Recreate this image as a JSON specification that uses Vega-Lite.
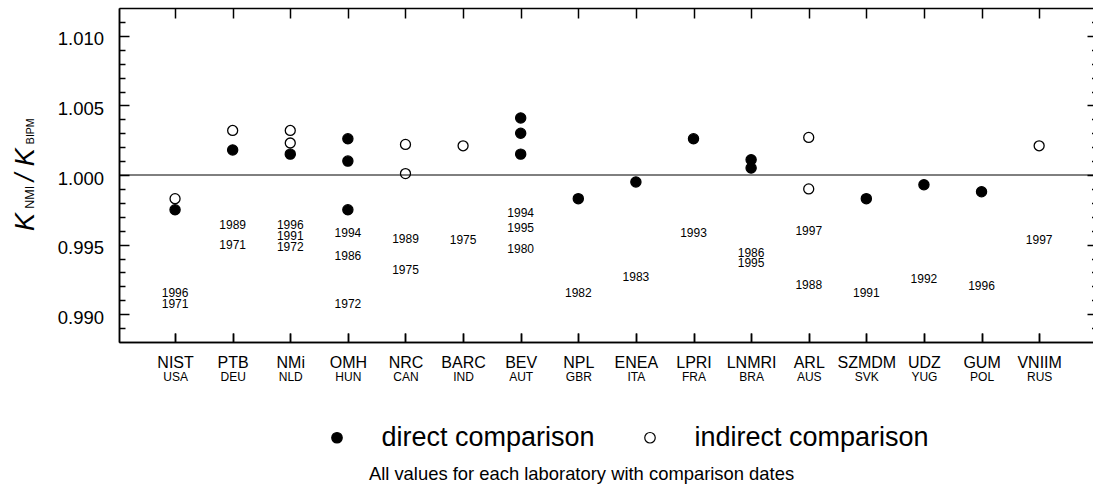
{
  "$schema": "https://vega.github.io/schema/vega-lite/v6.json",
  "width": 974,
  "height": 334,
  "autosize": "none",
  "padding": {"left": 119, "top": 8, "right": 0, "bottom": 143},
  "background": "white",
  "config": {
    "view": {"stroke": null},
    "font": "Liberation Sans",
    "axis": {
      "domainColor": "black",
      "tickColor": "black",
      "labelColor": "black",
      "titleColor": "black",
      "grid": false,
      "domainWidth": 1.5,
      "tickWidth": 1.5,
      "labelFont": "Liberation Sans",
      "titleFont": "Liberation Sans",
      "titleFontWeight": "normal",
      "labelOverlap": false,
      "labelFlush": false
    }
  },
  "datasets": {
    "points": [
      {"lab": "NIST", "type": "indirect comparison", "value": 0.9983},
      {"lab": "NIST", "type": "direct comparison", "value": 0.9975},
      {"lab": "PTB", "type": "indirect comparison", "value": 1.0032},
      {"lab": "PTB", "type": "direct comparison", "value": 1.0018},
      {"lab": "NMi", "type": "indirect comparison", "value": 1.0032},
      {"lab": "NMi", "type": "indirect comparison", "value": 1.0023},
      {"lab": "NMi", "type": "direct comparison", "value": 1.0015},
      {"lab": "OMH", "type": "direct comparison", "value": 1.0026},
      {"lab": "OMH", "type": "direct comparison", "value": 1.0010},
      {"lab": "OMH", "type": "direct comparison", "value": 0.9975},
      {"lab": "NRC", "type": "indirect comparison", "value": 1.0022},
      {"lab": "NRC", "type": "indirect comparison", "value": 1.0001},
      {"lab": "BARC", "type": "indirect comparison", "value": 1.0021},
      {"lab": "BEV", "type": "direct comparison", "value": 1.0041},
      {"lab": "BEV", "type": "direct comparison", "value": 1.0030},
      {"lab": "BEV", "type": "direct comparison", "value": 1.0015},
      {"lab": "NPL", "type": "direct comparison", "value": 0.9983},
      {"lab": "ENEA", "type": "direct comparison", "value": 0.9995},
      {"lab": "LPRI", "type": "direct comparison", "value": 1.0026},
      {"lab": "LNMRI", "type": "direct comparison", "value": 1.0011},
      {"lab": "LNMRI", "type": "direct comparison", "value": 1.0005},
      {"lab": "ARL", "type": "indirect comparison", "value": 1.0027},
      {"lab": "ARL", "type": "indirect comparison", "value": 0.9990},
      {"lab": "SZMDM", "type": "direct comparison", "value": 0.9983},
      {"lab": "UDZ", "type": "direct comparison", "value": 0.9993},
      {"lab": "GUM", "type": "direct comparison", "value": 0.9988},
      {"lab": "VNIIM", "type": "indirect comparison", "value": 1.0021}
    ],
    "years": [
      {"lab": "NIST", "year": "1996", "pos": 0.9915},
      {"lab": "NIST", "year": "1971", "pos": 0.9907},
      {"lab": "PTB", "year": "1989", "pos": 0.9964},
      {"lab": "PTB", "year": "1971", "pos": 0.9950},
      {"lab": "NMi", "year": "1996", "pos": 0.9964},
      {"lab": "NMi", "year": "1991", "pos": 0.9956},
      {"lab": "NMi", "year": "1972", "pos": 0.9948},
      {"lab": "OMH", "year": "1994", "pos": 0.9958},
      {"lab": "OMH", "year": "1986", "pos": 0.9942},
      {"lab": "OMH", "year": "1972", "pos": 0.9907},
      {"lab": "NRC", "year": "1989", "pos": 0.9954},
      {"lab": "NRC", "year": "1975", "pos": 0.9932},
      {"lab": "BARC", "year": "1975", "pos": 0.9953},
      {"lab": "BEV", "year": "1994", "pos": 0.9973},
      {"lab": "BEV", "year": "1995", "pos": 0.9962},
      {"lab": "BEV", "year": "1980", "pos": 0.9947},
      {"lab": "NPL", "year": "1982", "pos": 0.9915},
      {"lab": "ENEA", "year": "1983", "pos": 0.9927},
      {"lab": "LPRI", "year": "1993", "pos": 0.9958},
      {"lab": "LNMRI", "year": "1986", "pos": 0.9944},
      {"lab": "LNMRI", "year": "1995", "pos": 0.9937},
      {"lab": "ARL", "year": "1997", "pos": 0.9960},
      {"lab": "ARL", "year": "1988", "pos": 0.9921},
      {"lab": "SZMDM", "year": "1991", "pos": 0.9915},
      {"lab": "UDZ", "year": "1992", "pos": 0.9925},
      {"lab": "GUM", "year": "1996", "pos": 0.9920},
      {"lab": "VNIIM", "year": "1997", "pos": 0.9953}
    ],
    "reference": [{"ref": 1.0}]
  },
  "layer": [
    {
      "data": {"name": "points"},
      "transform": [{"filter": "datum.type === 'direct comparison'"}],
      "mark": {"type": "point", "shape": "circle", "filled": true, "size": 105, "stroke": "black", "strokeWidth": 1.2, "opacity": 1},
      "encoding": {
        "x": {
          "field": "lab", "type": "nominal",
          "scale": {"type": "point", "domain": ["NIST","PTB","NMi","OMH","NRC","BARC","BEV","NPL","ENEA","LPRI","LNMRI","ARL","SZMDM","UDZ","GUM","VNIIM"], "padding": 0.954, "align": 0.51},
          "axis": {
            "orient": "bottom", "labelAngle": 0, "labelFontSize": 16, "labelBaseline": "alphabetic",
            "tickSize": -9, "labelPadding": 34.4, "domain": true,
            "title": "All values for each laboratory with comparison dates",
            "titleFontSize": 18.4, "titleX": 462, "titleY": 137, "titleAlign": "center", "titleBaseline": "alphabetic"
          }
        },
        "y": {
          "field": "value", "type": "quantitative",
          "scale": {"domain": [0.988, 1.012], "nice": false, "zero": false},
          "axis": {
            "orient": "left", "values": [0.99, 0.995, 1.0, 1.005, 1.01], "format": ".3f",
            "labelFontSize": 18.5, "tickSize": -10, "labelPadding": 25.5, "labelOffset": 3, "labelBaseline": "middle",
            "domain": true,
            "title": "K", "titleFontSize": 27, "titleFontStyle": "italic", "titleAngle": 270,
            "titleX": -86, "titleY": 213.5, "titleAlign": "center", "titleBaseline": "alphabetic"
          }
        },
        "fill": {
          "field": "type", "type": "nominal",
          "scale": {"domain": ["direct comparison", "indirect comparison"], "range": ["black", "white"]},
          "legend": {
            "orient": "none", "legendX": 204.5, "legendY": 416, "direction": "horizontal", "columns": 2,
            "title": null, "labelFontSize": 27, "labelFont": "Liberation Sans", "labelColor": "black",
            "symbolType": "circle", "symbolSize": 110, "symbolStrokeColor": "black", "symbolStrokeWidth": 1.2,
            "labelOffset": 31, "columnPadding": 41, "padding": 0, "labelLimit": 0
          }
        }
      }
    },
    {
      "data": {"name": "points"},
      "transform": [{"filter": "datum.type === 'indirect comparison'"}],
      "mark": {"type": "point", "shape": "circle", "filled": true, "size": 100, "stroke": "black", "strokeWidth": 1.3, "opacity": 1},
      "encoding": {
        "x": {
          "field": "lab", "type": "nominal",
          "scale": {"type": "point", "domain": ["NIST","PTB","NMi","OMH","NRC","BARC","BEV","NPL","ENEA","LPRI","LNMRI","ARL","SZMDM","UDZ","GUM","VNIIM"], "padding": 0.954, "align": 0.51},
          "axis": {
            "orient": "bottom", "labelAngle": 0, "labelFontSize": 12, "labelBaseline": "alphabetic",
            "tickSize": -9, "labelPadding": 47.7, "domain": true, "title": null,
            "labelExpr": "['USA','DEU','NLD','HUN','CAN','IND','AUT','GBR','ITA','FRA','BRA','AUS','SVK','YUG','POL','RUS'][indexof(['NIST','PTB','NMi','OMH','NRC','BARC','BEV','NPL','ENEA','LPRI','LNMRI','ARL','SZMDM','UDZ','GUM','VNIIM'], datum.value)]"
          }
        },
        "y": {
          "field": "value", "type": "quantitative",
          "scale": {"domain": [0.988, 1.012], "nice": false, "zero": false},
          "axis": {
            "orient": "left",
            "values": [0.989, 0.991, 0.992, 0.993, 0.994, 0.996, 0.997, 0.998, 0.999, 1.001, 1.002, 1.003, 1.004, 1.006, 1.007, 1.008, 1.009, 1.011],
            "labels": false, "tickSize": -6, "domain": true,
            "title": "NMI", "titleFontSize": 12.5, "titleAngle": 270,
            "titleX": -86, "titleY": 188.7, "titleAlign": "center", "titleBaseline": "alphabetic"
          }
        },
        "fill": {
          "field": "type", "type": "nominal",
          "scale": {"domain": ["direct comparison", "indirect comparison"], "range": ["black", "white"]}
        }
      }
    },
    {
      "data": {"name": "years"},
      "mark": {"type": "text", "fontSize": 12, "font": "Liberation Sans", "align": "center", "baseline": "middle", "color": "black"},
      "encoding": {
        "x": {
          "field": "lab", "type": "nominal",
          "scale": {"type": "point", "domain": ["NIST","PTB","NMi","OMH","NRC","BARC","BEV","NPL","ENEA","LPRI","LNMRI","ARL","SZMDM","UDZ","GUM","VNIIM"], "padding": 0.954, "align": 0.51},
          "axis": {"orient": "top", "labels": false, "tickSize": -10, "domain": true, "title": null}
        },
        "y": {
          "field": "pos", "type": "quantitative",
          "scale": {"domain": [0.988, 1.012], "nice": false, "zero": false},
          "axis": {
            "orient": "right", "values": [0.99, 0.995, 1.0, 1.005, 1.01],
            "labels": false, "tickSize": -6, "domain": false,
            "title": "/ K", "titleFontSize": 27, "titleFontStyle": "italic", "titleAngle": 270,
            "titleX": -1060, "titleY": 156.3, "titleAlign": "center", "titleBaseline": "alphabetic"
          }
        },
        "text": {"field": "year", "type": "nominal"}
      }
    },
    {
      "data": {"name": "reference"},
      "mark": {"type": "rule", "color": "black", "strokeWidth": 1},
      "encoding": {
        "y": {
          "field": "ref", "type": "quantitative",
          "scale": {"domain": [0.988, 1.012], "nice": false, "zero": false},
          "axis": {
            "orient": "right",
            "values": [0.989, 0.991, 0.992, 0.993, 0.994, 0.996, 0.997, 0.998, 0.999, 1.001, 1.002, 1.003, 1.004, 1.006, 1.007, 1.008, 1.009, 1.011],
            "labels": false, "tickSize": -1.5, "domain": false,
            "title": "BIPM", "titleFontSize": 10.5, "titleAngle": 270,
            "titleX": -1060, "titleY": 122.8, "titleAlign": "center", "titleBaseline": "alphabetic"
          }
        }
      }
    }
  ],
  "resolve": {"axis": {"x": "independent", "y": "independent"}}
}
